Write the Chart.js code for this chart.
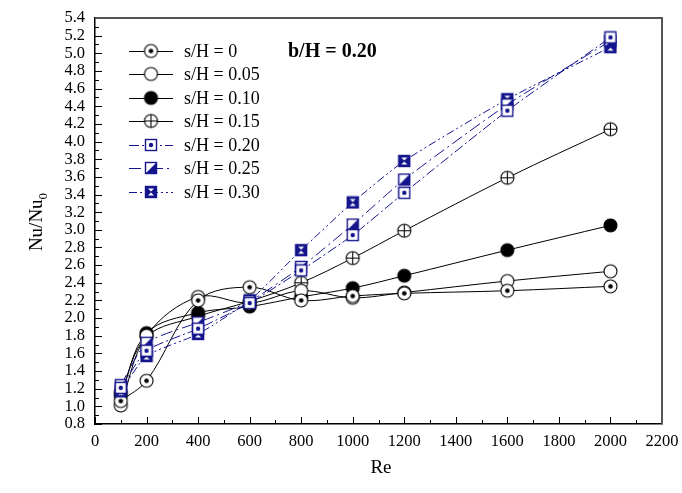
<!DOCTYPE html>
<html>
<head>
<meta charset="utf-8">
<script src="https://cdn.jsdelivr.net/npm/chart.js@4.4.1/dist/chart.umd.min.js"></script>
<style>
  body { margin: 0; background: #fff; }
  canvas { display: block; }
</style>
</head>
<body>
<canvas id="myChart" width="682" height="493"></canvas>
<script>
// values
const re = [100, 200, 400, 600, 800, 1000, 1200, 1600, 2000];
const sH000 = [1.06, 1.29, 2.20, 2.35, 2.20, 2.25, 2.28, 2.31, 2.36];
const sH005 = [1.01, 1.80, 2.24, 2.17, 2.31, 2.23, 2.29, 2.42, 2.53];
const sH010 = [1.12, 1.83, 2.06, 2.13, 2.24, 2.34, 2.48, 2.77, 3.05];
const sH015 = [1.16, 1.79, 2.02, 2.19, 2.40, 2.68, 2.99, 3.59, 4.14];
const sH020 = [1.21, 1.63, 1.88, 2.17, 2.54, 2.94, 3.42, 4.35, 5.18];
const sH025 = [1.24, 1.72, 1.95, 2.19, 2.58, 3.06, 3.57, 4.42, 5.14];
const sH030 = [1.17, 1.57, 1.82, 2.20, 2.77, 3.31, 3.78, 4.48, 5.07];
const seriesNames = ['s/H = 0', 's/H = 0.05', 's/H = 0.10', 's/H = 0.15', 's/H = 0.20', 's/H = 0.25', 's/H = 0.30'];
const xTicks = [0, 200, 400, 600, 800, 1000, 1200, 1400, 1600, 1800, 2000, 2200];
const yTicks = [0.8, 1.0, 1.2, 1.4, 1.6, 1.8, 2.0, 2.2, 2.4, 2.6, 2.8, 3.0, 3.2, 3.4, 3.6, 3.8, 4.0, 4.2, 4.4, 4.6, 4.8, 5.0, 5.2, 5.4];

const NAVY = '#14148c';
const FONT = '"Liberation Serif", "Times New Roman", serif';

// marker pictures
function circleMarker(kind) {
    var c = document.createElement('canvas');
    c.width = 17; c.height = 17;
    var g = c.getContext('2d');
    g.beginPath();
    g.arc(8.5, 8.5, 6.5, 0, 2 * Math.PI);
    g.fillStyle = kind == 'filled' ? '#000' : '#fff';
    g.fill();
    g.lineWidth = 1.1;
    g.strokeStyle = '#000';
    g.stroke();
    if (kind == 'dot') {
        g.beginPath();
        g.arc(8.5, 8.5, 2.3, 0, 2 * Math.PI);
        g.fillStyle = '#000';
        g.fill();
    }
    if (kind == 'cross') {
        g.beginPath();
        g.moveTo(2, 8.5); g.lineTo(15, 8.5);
        g.moveTo(8.5, 2); g.lineTo(8.5, 15);
        g.stroke();
    }
    return c;
}

function squareMarker(kind) {
    var c = document.createElement('canvas');
    c.width = 14; c.height = 14;
    var g = c.getContext('2d');
    var a = 1.5, b = 12.5;
    g.fillStyle = kind == 'bow' ? NAVY : '#fff';
    g.fillRect(a, a, b - a, b - a);
    if (kind == 'dot') {
        g.beginPath();
        g.arc(7, 7, 2.2, 0, 2 * Math.PI);
        g.fillStyle = NAVY;
        g.fill();
    }
    if (kind == 'half') {
        g.beginPath();
        g.moveTo(b, a); g.lineTo(b, b); g.lineTo(a, b);
        g.closePath();
        g.fillStyle = NAVY;
        g.fill();
    }
    if (kind == 'bow') {
        g.fillStyle = '#fff';
        g.beginPath();
        g.moveTo(4, 3.5); g.lineTo(10, 3.5); g.lineTo(7, 6.5);
        g.closePath(); g.fill();
        g.beginPath();
        g.moveTo(4, 10.5); g.lineTo(10, 10.5); g.lineTo(7, 7.5);
        g.closePath(); g.fill();
    }
    g.lineWidth = 1.4;
    g.strokeStyle = NAVY;
    g.strokeRect(a, a, b - a, b - a);
    return c;
}

const markers = [circleMarker('dot'), circleMarker('open'), circleMarker('filled'), circleMarker('cross'),
    squareMarker('dot'), squareMarker('half'), squareMarker('bow')];
const allValues = [sH000, sH005, sH010, sH015, sH020, sH025, sH030];
const dashes = [[], [], [], [], [10, 3, 2, 3], [12, 4, 2, 4], [8, 3, 2, 3, 2, 3]];

var datasets = allValues.map(function (vals, i) {
    var blue = i >= 4;
    return {
        label: seriesNames[i],
        data: vals.map(function (v, k) { return { x: re[k], y: v }; }),
        borderColor: blue ? NAVY : '#000',
        borderWidth: 1,
        borderDash: dashes[i],
        pointStyle: markers[i],
        pointRadius: 7,
        tension: blue ? 0.2 : 0.35,
        order: blue ? 0 : 1,
        clip: false
    };
});

// ticks pointing inward, frame, legend and texts
const decorations = {
    id: 'decorations',
    afterDraw: function (chart) {
        var ctx = chart.ctx;
        var area = chart.chartArea;
        var xs = chart.scales.x, ys = chart.scales.y;
        ctx.save();
        ctx.strokeStyle = '#000';
        ctx.lineWidth = 1;
        ctx.beginPath();
        for (var v = 0; v <= 2200; v += 100) {
            var px = Math.round(xs.getPixelForValue(v)) + 0.5;
            var len = v % 200 == 0 ? 7 : 4;
            ctx.moveTo(px, area.bottom);
            ctx.lineTo(px, area.bottom - len);
        }
        for (var k = 0; k <= 46; k++) {
            var yv = 0.8 + k * 0.1;
            var py = Math.round(ys.getPixelForValue(yv)) + 0.5;
            var l2 = k % 2 == 0 ? 7 : 4;
            ctx.moveTo(area.left, py);
            ctx.lineTo(area.left + l2, py);
        }
        ctx.stroke();

        // top and right frame
        ctx.strokeStyle = '#555';
        ctx.lineWidth = 2;
        ctx.beginPath();
        ctx.moveTo(area.left, area.top);
        ctx.lineTo(area.right, area.top);
        ctx.lineTo(area.right, area.bottom);
        ctx.stroke();

        // legend
        var rows = [51, 74, 98, 121, 145, 168, 192];
        ctx.font = '18px ' + FONT;
        ctx.textBaseline = 'middle';
        ctx.textAlign = 'left';
        ctx.fillStyle = '#000';
        rows.forEach(function (ry, i) {
            var ds = datasets[i];
            ctx.strokeStyle = ds.borderColor;
            ctx.lineWidth = 1;
            ctx.setLineDash(ds.borderDash);
            ctx.beginPath();
            ctx.moveTo(129, ry + 0.5);
            ctx.lineTo(173, ry + 0.5);
            ctx.stroke();
            ctx.setLineDash([]);
            var m = markers[i];
            ctx.drawImage(m, 151 - m.width / 2, ry - m.height / 2);
            ctx.fillStyle = '#000';
            ctx.fillText(seriesNames[i], 184, ry + 1);
        });

        ctx.font = 'bold 20px ' + FONT;
        ctx.fillText('b/H = 0.20', 288, 52);

        // axis titles
        ctx.font = '19px ' + FONT;
        ctx.textAlign = 'center';
        ctx.fillText('Re', 381, 468);

        ctx.translate(37, 222);
        ctx.rotate(-Math.PI / 2);
        var main = 'Nu/Nu';
        var w1 = ctx.measureText(main).width;
        ctx.font = '13px ' + FONT;
        var w2 = ctx.measureText('0').width;
        var start = -(w1 + w2) / 2;
        ctx.textAlign = 'left';
        ctx.font = '19px ' + FONT;
        ctx.fillText(main, start, 0);
        ctx.font = '13px ' + FONT;
        ctx.fillText('0', start + w1, 7);
        ctx.restore();
    }
};

var ctx = document.getElementById('myChart').getContext('2d');
var myChart = new Chart(ctx, {
    type: 'line',
    data: { datasets: datasets },
    options: {
        responsive: false,
        animation: false,
        layout: { padding: { top: 18, right: 20, left: 0, bottom: 0 } },
        plugins: {
            legend: { display: false },
            tooltip: { enabled: false }
        },
        scales: {
            x: {
                type: 'linear',
                min: 0,
                max: 2200,
                afterBuildTicks: function (s) { s.ticks = xTicks.map(function (v) { return { value: v }; }); },
                afterFit: function (s) { s.height = 69; s.paddingLeft = 0; s.paddingRight = 0; },
                grid: { display: false, drawTicks: false },
                border: { display: true, color: '#000', width: 1.5 },
                ticks: {
                    color: '#000',
                    padding: 8,
                    maxRotation: 0,
                    autoSkip: false,
                    font: { family: FONT, size: 16.5 },
                    callback: function (v) { return String(v); }
                }
            },
            y: {
                min: 0.8,
                max: 5.4,
                afterBuildTicks: function (s) { s.ticks = yTicks.map(function (v) { return { value: v }; }); },
                afterFit: function (s) { s.width = 95; s.paddingTop = 0; s.paddingBottom = 0; },
                grid: { display: false, drawTicks: false },
                border: { display: true, color: '#000', width: 1.5 },
                ticks: {
                    color: '#000',
                    padding: 10,
                    autoSkip: false,
                    font: { family: FONT, size: 16.5 },
                    callback: function (v) { return Number(v).toFixed(1); }
                }
            }
        }
    },
    plugins: [decorations]
});
</script>
</body>
</html>
